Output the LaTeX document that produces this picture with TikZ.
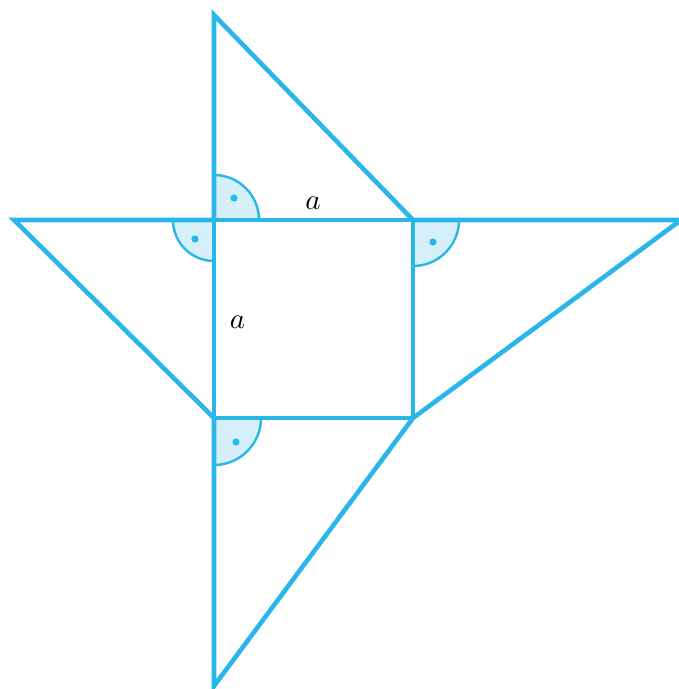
\documentclass[tikz,border=0pt]{standalone}
\begin{document}
\begin{tikzpicture}[x=1pt,y=-1pt,
  edge/.style={draw={rgb,255:red,41;green,182;blue,232},line width=4.6pt,line join=miter,line cap=round},
  wedge/.style={fill={rgb,255:red,214;green,240;blue,250},draw={rgb,255:red,41;green,182;blue,232},line width=2.4pt},
  dotm/.style={fill={rgb,255:red,41;green,182;blue,232},draw=none},
  lab/.style={scale=2.9,inner sep=0pt}]
\useasboundingbox (0,0) rectangle (679,689);
\coordinate (A) at (214,220);
\coordinate (B) at (413,220);
\coordinate (C) at (413,418);
\coordinate (D) at (214,418);
\coordinate (T) at (214,15);
\coordinate (L) at (14,220);
\coordinate (R) at (681,220);
\coordinate (U) at (214,686);
% right angle marks
\filldraw[wedge] (A) -- ++(0,-45) arc[start angle=270,end angle=360,radius=45] -- cycle;
\filldraw[wedge] (A) -- ++(-41,0) arc[start angle=180,end angle=90,radius=41] -- cycle;
\filldraw[wedge] (B) -- ++(46,0) arc[start angle=0,end angle=90,radius=46] -- cycle;
\filldraw[wedge] (D) -- ++(47,0) arc[start angle=0,end angle=90,radius=47] -- cycle;
\fill[dotm] (234,198) circle (3.6);
\fill[dotm] (195,239) circle (3.6);
\fill[dotm] (433,242) circle (3.6);
\fill[dotm] (236,442) circle (3.6);
% square
\draw[edge] (A) -- (B) -- (C) -- (D) -- cycle;
% triangles
\draw[edge,line cap=butt] (A) -- (T) -- (B);
\draw[edge,line cap=butt] (A) -- (L) -- (D);
\draw[edge,line cap=butt] (B) -- (R) -- (C);
\draw[edge,line cap=butt] (D) -- (U) -- (C);
% labels
\node[lab] (la) at (313,203) {$a$};
\node[lab] (lb) at (237.5,322.5) {$a$};
\end{tikzpicture}
\end{document}
